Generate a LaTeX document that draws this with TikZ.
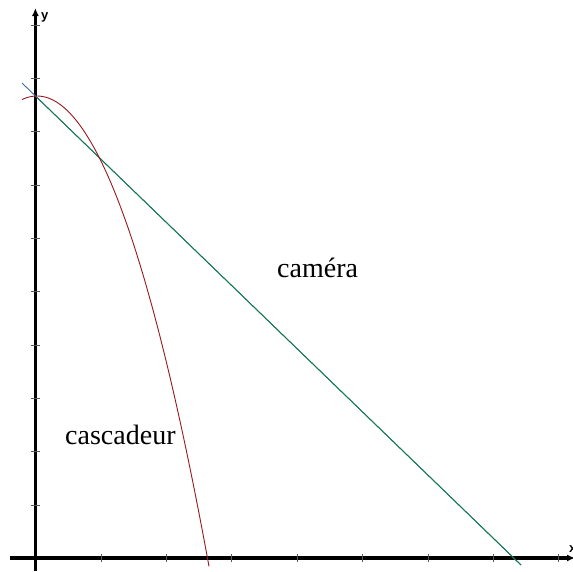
\documentclass[tikz,border=0pt]{standalone}
\usepackage{fontspec}
\setmainfont{Liberation Serif}
\setsansfont{Liberation Sans}
\usetikzlibrary{arrows.meta,calc}
\definecolor{camgreen}{RGB}{20,125,75}
\definecolor{camblue}{RGB}{60,110,170}
\definecolor{cascred}{RGB}{150,25,30}
\tikzset{
  axisline/.style={line width=3.2pt,-{Latex[length=8pt,width=7pt]}},
  tickmark/.style={line width=0.4pt,gray!70!black},
  curvelabel/.style={font=\fontsize{28}{30}\selectfont,inner sep=0pt,anchor=base west},
  axislabel/.style={font=\sffamily\bfseries\fontsize{13}{14}\selectfont,inner sep=0pt}
}
\begin{document}
\begin{tikzpicture}[x=1pt,y=-1pt]
\useasboundingbox (0,0) rectangle (573,571);
% axes
\coordinate (O) at (35.4,558);
\coordinate (xend) at (575,558);
\coordinate (xstart) at (10,558);
\coordinate (ystart) at (35.4,571);
\coordinate (yend) at (35.4,8);
\draw[axisline] (xstart) -- (xend);
\draw[axisline] (ystart) -- (yend);
% ticks
\foreach \k in {1,...,8} {
  \draw[tickmark] (35.4+65.4*\k,554) -- (35.4+65.4*\k,562);
}
\foreach \k in {1,...,10} {
  \draw[tickmark] (31,558-53.3*\k) -- (39.5,558-53.3*\k);
}
\node[axislabel,anchor=west] (ylab) at (41,17) {y};
\node[axislabel,anchor=west] (xlab) at (569,549) {x};
% camera line
\coordinate (c1) at (22,83);
\coordinate (c2) at (521,565);
\draw[camblue,line width=0.9pt] (c1) -- (c2);
\draw[camgreen,line width=0.9pt] ($(c1)!0.03!(c2)$) -- (c2);
% stuntman parabola
\draw[cascred,line width=0.9pt,domain=22:209,samples=120,smooth] plot (\x,{96+0.0159*(\x-37)*(\x-37)});
% labels
\node[curvelabel] (cam) at (277,277) {caméra};
\node[curvelabel] (casc) at (65,444) {cascadeur};
\end{tikzpicture}
\end{document}
